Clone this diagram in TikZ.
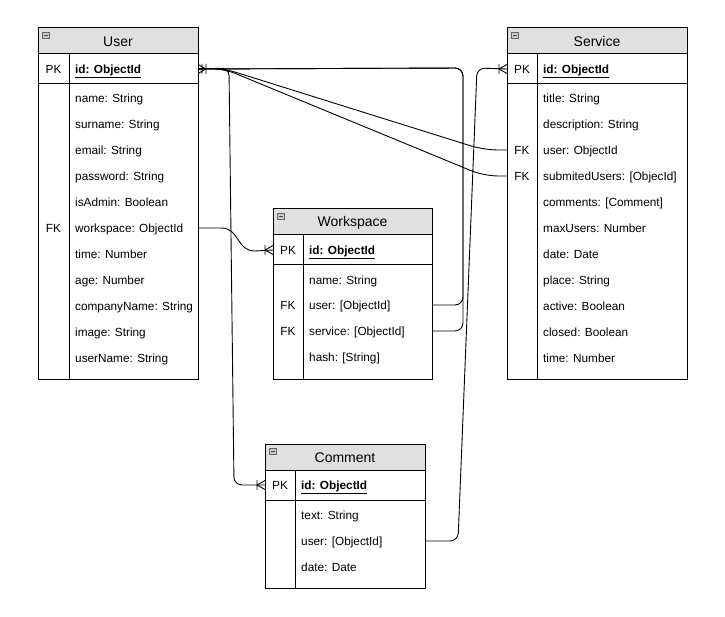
\documentclass[tikz,border=0pt]{standalone}
\usepackage{fontspec}
\setmainfont{Liberation Sans}
\definecolor{hdrgray}{HTML}{E0E0E0}
\definecolor{icongray}{HTML}{C8C8C8}
\tikzset{
  tbl/.style={draw=black, line width=1pt},
  ttl/.style={font=\fontsize{14}{16}\selectfont, inner sep=0pt, yshift=-0.5pt},
  rowtxt/.style={anchor=west, font=\fontsize{11.8}{14}\selectfont, inner sep=0pt, text height=9pt, text depth=2.5pt, yshift=-1pt},
  keytxt/.style={anchor=center, font=\fontsize{11.8}{14}\selectfont, inner sep=0pt, text height=9pt, text depth=2.5pt, yshift=-1pt},
  idtxt/.style={anchor=west, font=\fontsize{11.8}{14}\selectfont\bfseries, inner sep=0pt, text height=9pt, text depth=2.5pt, yshift=-1pt},
  conn/.style={draw=black, line width=0.9pt},
  ermark/.style={draw=black, line width=0.9pt},
}
% #1 name, #2 left, #3 top, #4 right, #5 bottom, #6 divider, #7 title
\newcommand\ertbl[7]{%
  \fill[hdrgray] (#2,#3) rectangle (#4,#3+26);
  \draw[tbl] (#2,#3) rectangle (#4,#5);
  \draw[tbl] (#2,#3+26) -- (#4,#3+26);
  \draw[tbl] (#2,#3+56) -- (#4,#3+56);
  \draw[tbl] (#6,#3+26) -- (#6,#5);
  \node[ttl] (#1-title) at ({(#2+#4)/2},#3+13.5) {#7};
  \draw[fill=icongray, draw=black!60, line width=0.6pt] (#2+4,#3+4) rectangle (#2+11,#3+10);
  \draw[black!70, line width=0.7pt] (#2+5.5,#3+7) -- (#2+9.5,#3+7);
  \node[keytxt] (#1-pk) at ({(#2+#6)/2},#3+41) {PK};
  \node[idtxt] (#1-id) at (#6+6,#3+41) {\underline{id: ObjectId}};
  \coordinate (#1-pkL) at (#2,#3+41);
  \coordinate (#1-pkR) at (#4,#3+41);
}
% crow's foot with bar, table to the right of point
\newcommand\footR[1]{%
  \draw[ermark, shift={(#1)}] (-8,0) -- (0,-4.5) (-8,0) -- (0,4.5) (-8,-5) -- (-8,5);
}
\begin{document}
\begin{tikzpicture}[x=1pt,y=-1pt]
\useasboundingbox (0,0) rectangle (725,617);
\fill[white] (0,0) rectangle (725,617);

% ---------- User ----------
\ertbl{u}{38}{28}{198}{379}{69}{User}
\node[rowtxt] (u-name) at (75,98) {name: String};
\node[rowtxt] (u-surname) at (75,124) {surname: String};
\node[rowtxt] (u-email) at (75,150) {email: String};
\node[rowtxt] (u-password) at (75,176) {password: String};
\node[rowtxt] (u-isadmin) at (75,202) {isAdmin: Boolean};
\node[rowtxt] (u-workspace) at (75,228) {workspace: ObjectId};
\node[keytxt] (u-fk1) at (53.5,228) {FK};
\node[rowtxt] (u-time) at (75,254) {time: Number};
\node[rowtxt] (u-age) at (75,280) {age: Number};
\node[rowtxt] (u-company) at (75,306) {companyName: String};
\node[rowtxt] (u-image) at (75,332) {image: String};
\node[rowtxt] (u-username) at (75,358) {userName: String};
\coordinate (u-wsR) at (198,228);

% ---------- Service ----------
\ertbl{s}{507}{28}{687}{379}{537}{Service}
\node[rowtxt] (s-title) at (543,98) {title: String};
\node[rowtxt] (s-desc) at (543,124) {description: String};
\node[rowtxt] (s-user) at (543,150) {user: ObjectId};
\node[keytxt] (s-fk1) at (522,150) {FK};
\node[rowtxt] (s-sub) at (543,176) {submitedUsers: [ObjecId]};
\node[keytxt] (s-fk2) at (522,176) {FK};
\node[rowtxt] (s-comments) at (543,202) {comments: [Comment]};
\node[rowtxt] (s-max) at (543,228) {maxUsers: Number};
\node[rowtxt] (s-date) at (543,254) {date: Date};
\node[rowtxt] (s-place) at (543,280) {place: String};
\node[rowtxt] (s-active) at (543,306) {active: Boolean};
\node[rowtxt] (s-closed) at (543,332) {closed: Boolean};
\node[rowtxt] (s-time) at (543,358) {time: Number};
\coordinate (s-userL) at (507,150);
\coordinate (s-subL) at (507,176);

% ---------- Workspace ----------
\ertbl{w}{273}{209}{432}{379}{303}{Workspace}
\node[rowtxt] (w-name) at (309,280) {name: String};
\node[rowtxt] (w-user) at (309,305) {user: [ObjectId]};
\node[keytxt] (w-fk1) at (288,305) {FK};
\node[rowtxt] (w-service) at (309,331) {service: [ObjectId]};
\node[keytxt] (w-fk2) at (288,331) {FK};
\node[rowtxt] (w-hash) at (309,357) {hash: [String]};
\coordinate (w-userR) at (432,305);
\coordinate (w-serviceR) at (432,331);

% ---------- Comment ----------
\ertbl{c}{265}{444}{425}{588}{295}{Comment}
\node[rowtxt] (c-text) at (301,515) {text: String};
\node[rowtxt] (c-user) at (301,541) {user: [ObjectId]};
\node[rowtxt] (c-date) at (301,567) {date: Date};
\coordinate (c-userR) at (425,541);

% ---------- Connectors ----------
\coordinate (bendA) at (463,68);
\draw[conn, rounded corners=8pt] (w-userR) -- (463,305) -- (bendA) -- (u-pkR);
\draw[conn, rounded corners=8pt] (w-serviceR) -- (463,331) -- (bendA) -- (u-pkR);
\draw[conn, rounded corners=8pt] (c-userR) -- (458,541) -- (477,68) -- (s-pkL);
\draw[conn, rounded corners=8pt] (u-pkR) -- (229,68) -- (234,485) -- (c-pkL);
\draw[conn] (u-wsR) -- (221,228) .. controls (240,228) and (236,251) .. (255,251) -- (w-pkL);
\draw[conn, rounded corners=14pt] (u-pkR) -- (222,68) -- (484,150) -- (s-userL);
\draw[conn, rounded corners=14pt] (u-pkR) -- (222,68) -- (484,176) -- (s-subL);

% ---------- Markers ----------
\footR{s-pkL}
\footR{w-pkL}
\footR{c-pkL}
\draw[ermark, shift={(u-pkR)}] (8,0) -- (0,-4.5) (8,0) -- (0,4.5) (4,-5) -- (4,5) (8,-5) -- (8,5);
\end{tikzpicture}
\end{document}
